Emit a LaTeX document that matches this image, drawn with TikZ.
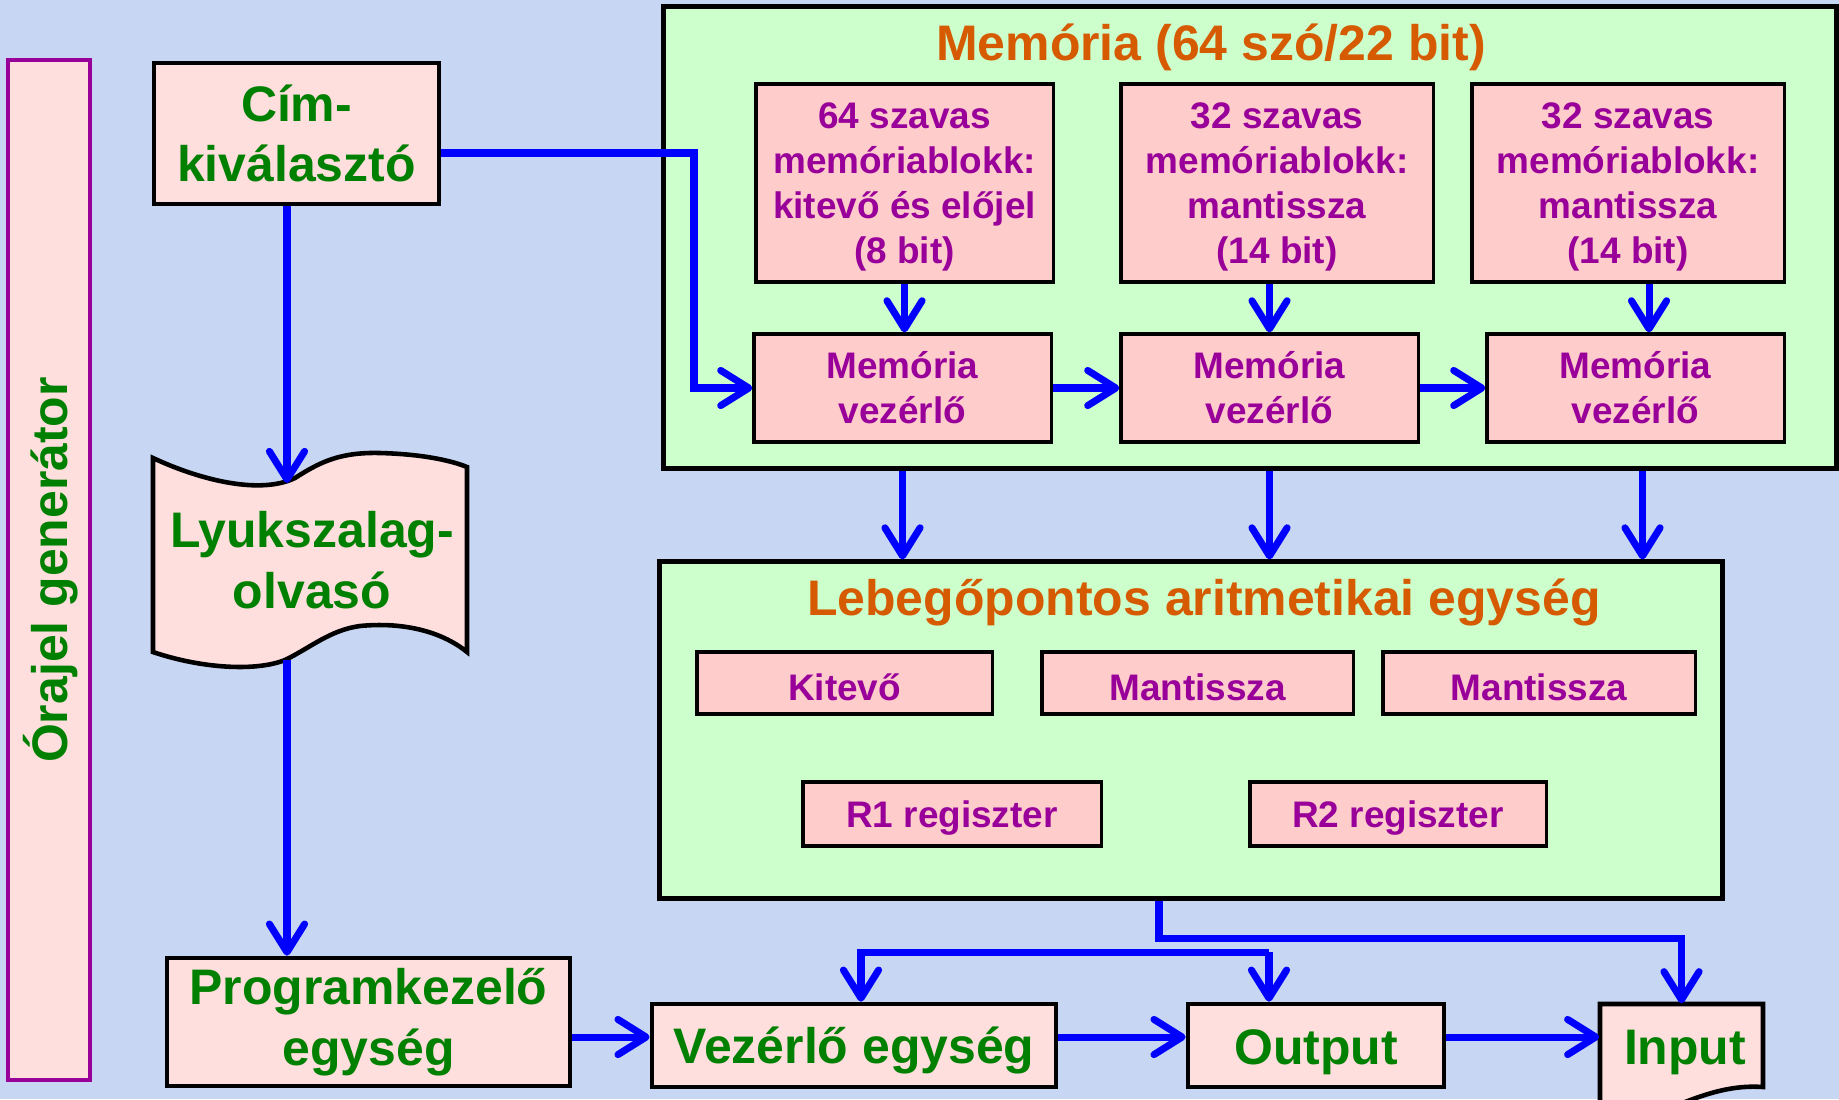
\documentclass[tikz,border=0pt]{standalone}
\usepackage{fontspec}
\setmainfont{Liberation Sans}
\usepackage{xcolor}
\usetikzlibrary{arrows.meta}

\definecolor{bgblue}{RGB}{199,214,242}
\definecolor{unitpink}{RGB}{255,222,222}
\definecolor{partpink}{RGB}{255,204,204}
\definecolor{groupgreen}{RGB}{204,255,204}
\definecolor{unitgreen}{RGB}{0,128,0}
\definecolor{partpurple}{RGB}{153,0,153}
\definecolor{titleorange}{RGB}{214,90,0}
\definecolor{flowblue}{RGB}{0,0,255}

\tikzset{
  flow/.style={draw=flowblue, line width=2pt, -{Straight Barb[length=8pt,width=10pt,round]}},
  unit/.style={draw=black, line width=1.3pt, fill=unitpink, text=unitgreen, align=center, inner sep=0pt,
    font=\fontsize{14.2}{17.2}\selectfont\bfseries, execute at begin node={\rule{0pt}{13.5pt}}},
  part/.style={draw=black, line width=0.9pt, fill=partpink, text=partpurple, align=center, inner sep=0pt,
    font=\fontsize{10.5}{12.8}\selectfont\bfseries, execute at begin node={\rule{0pt}{10pt}}},
  memblock/.style={part, minimum height=1.98cm, text depth=0pt},
  group/.style={draw=black, line width=1.4pt, fill=groupgreen},
  grouptitle/.style={text=titleorange, inner sep=0pt, font=\fontsize{14.2}{17}\selectfont\bfseries}
}

\begin{document}
\begin{tikzpicture}[x=0.01cm,y=-0.01cm]
  \useasboundingbox (0,0) rectangle (1839,1099);%
  \clip (0,0) rectangle (1839,1099);%
  \fill[bgblue] (0,0) rectangle (1839,1099);%

  % Clock generator strip
  \node[unit, rotate=90, draw=partpurple, line width=1.1pt, minimum width=10.2cm, minimum height=0.82cm,
    execute at begin node={}] (clock) at (49,570) {Órajel generátor};%

  % Address selector
  \node[unit, minimum width=2.85cm, minimum height=1.41cm] (addr) at (296.5,133.5) {Cím-\\kiválasztó};%

  % Memory group with its blocks
  \node[group, minimum width=11.72cm, minimum height=4.61cm] (mem) at (1250,237.5) {};%
  \node[grouptitle] (memtitle) at (1211,47) {Memória (64 szó/22 bit)};%
  \node[memblock, minimum width=2.97cm] (b1) at (904.5,183) {64 szavas\\memóriablokk:\\kitevő és előjel\\(8 bit)};%
  \node[memblock, minimum width=3.12cm] (b2) at (1277,183) {32 szavas\\memóriablokk:\\mantissza\\(14 bit)};%
  \node[memblock, minimum width=3.12cm] (b3) at (1628,183) {32 szavas\\memóriablokk:\\mantissza\\(14 bit)};%
  \node[part, minimum width=2.97cm, minimum height=1.08cm] (c1) at (902.5,388) {Memória\\vezérlő};%
  \node[part, minimum width=2.97cm, minimum height=1.08cm] (c2) at (1269.5,388) {Memória\\vezérlő};%
  \node[part, minimum width=2.97cm, minimum height=1.08cm] (c3) at (1635.5,388) {Memória\\vezérlő};%

  % Floating point unit with its registers
  \node[group, minimum width=10.62cm, minimum height=3.36cm] (alu) at (1191,730) {};%
  \node[grouptitle] (alutitle) at (1204,602) {Lebegőpontos aritmetikai egység};%
  \node[part, minimum width=2.95cm, minimum height=0.62cm] (exp) at (844.5,683) {Kitevő};%
  \node[part, minimum width=3.11cm, minimum height=0.62cm] (man1) at (1197.5,683) {Mantissza};%
  \node[part, minimum width=3.12cm, minimum height=0.62cm] (man2) at (1539,683) {Mantissza};%
  \node[part, minimum width=2.98cm, minimum height=0.64cm] (r1) at (952,814) {R1 regiszter};%
  \node[part, minimum width=2.96cm, minimum height=0.64cm] (r2) at (1398,814) {R2 regiszter};%

  % Punched tape reader
  \draw[line width=1.3pt, fill=unitpink] (153,458) .. controls (200,480) and (260,495) .. (295,478)
    .. controls (320,462) and (340,452) .. (380,453) .. controls (420,454) and (450,460) .. (467,467)
    -- (467,652) .. controls (440,630) and (400,622) .. (360,626)
    .. controls (330,630) and (310,648) .. (285,660) .. controls (255,672) and (200,668) .. (153,652) -- cycle;%
  \node[text=unitgreen, align=center, inner sep=0pt, font=\fontsize{14.2}{17.2}\selectfont\bfseries] (tape) at (312,560) {Lyukszalag-\\olvasó};%
  \coordinate (tapetop) at (287,483);%
  \coordinate (tapebot) at (287,660);%

  % Bottom row of units
  \node[unit, minimum width=4.03cm, minimum height=1.28cm] (prog) at (368.5,1022) {Programkezelő\\egység};%
  \node[unit, minimum width=4.04cm, minimum height=0.83cm] (vez) at (854,1045.5) {Vezérlő egység};%
  \node[unit, minimum width=2.56cm, minimum height=0.83cm] (out) at (1316,1045.5) {Output};%
  \node[inner sep=0pt, minimum width=1.63cm, minimum height=0.86cm] (inp) at (1681.5,1047) {};%
  \draw[line width=1.3pt, fill=unitpink] (1600,1125) -- (1600,1004) -- (1763,1004) -- (1763,1087)
    .. controls (1735,1085) and (1710,1092) .. (1680,1104) .. controls (1650,1116) and (1620,1122) .. (1600,1125);%
  \node[text=unitgreen, inner sep=0pt, font=\fontsize{14.2}{17}\selectfont\bfseries] at (1685,1052) {Input};%
  \coordinate (rowy) at (0,1037);%

  % Address selector to memory controller
  \draw[flow] (addr.east |- 0,153) -- (694,153) |- (c1.west);%

  % Memory blocks to their controllers
  \draw[flow] (b1.south) -- (b1.south |- c1.north);%
  \draw[flow] (c2.north |- b2.south) -- (c2.north);%
  \draw[flow] ([xshift=0.21cm]b3.south) -- ([xshift=0.21cm]b3.south |- c3.north);%
  \draw[flow] (c1.east) -- (c2.west);%
  \draw[flow] (c2.east) -- (c3.west);%

  % Memory to arithmetic unit
  \draw[flow] (c1.south |- mem.south) -- (c1.south |- alu.north);%
  \draw[flow] (c2.south |- mem.south) -- (c2.south |- alu.north);%
  \draw[flow] ([xshift=0.07cm]c3.south |- mem.south) -- ([xshift=0.07cm]c3.south |- alu.north);%

  % Address selector, tape reader, program unit
  \draw[flow] (addr.south -| tapetop) -- (tapetop);%
  \draw[flow] (tapebot) -- (tapebot |- prog.north);%

  % Bottom row links
  \draw[flow] (prog.east |- rowy) -- (vez.west |- rowy);%
  \draw[flow] (vez.east |- rowy) -- (out.west |- rowy);%
  \draw[flow] (out.east |- rowy) -- (inp.west |- rowy);%

  % Arithmetic unit outputs
  \draw[flow] ([xshift=-0.32cm]alu.south) -- ++(0,38) -| (inp.north);%
  \coordinate (splitl) at (861,952);%
  \coordinate (splitr) at (1269,952);%
  \draw[flow] (splitr) -- (splitl) -- (splitl |- vez.north);%
  \draw[flow] (splitr) -- (splitr |- out.north);%
\end{tikzpicture}
\end{document}
